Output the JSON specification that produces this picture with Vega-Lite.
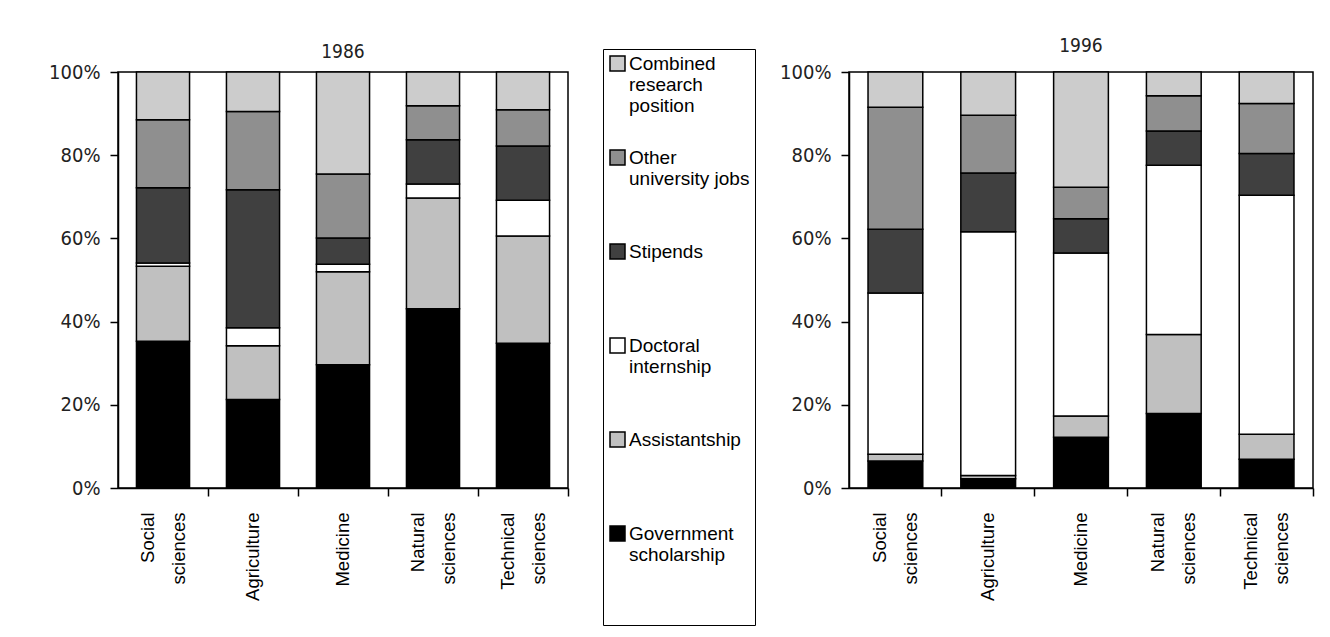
{
  "$schema": "https://vega.github.io/schema/vega-lite/v6.json",
  "background": "white",
  "padding": {"left": 47, "top": 36, "right": 5, "bottom": 5},
  "config": {
    "font": "Liberation Sans",
    "view": {"stroke": "black", "strokeWidth": 1.5},
    "concat": {"spacing": 21},
    "title": {"font": "DejaVu Sans Condensed, Liberation Sans Narrow, sans-serif", "fontSize": 19, "fontWeight": "normal", "color": "#222", "offset": 6},
    "axisY": {"domainColor": "black", "domainWidth": 1.5, "tickColor": "black", "tickWidth": 1.5, "tickSize": 8, "labelFont": "DejaVu Sans Condensed, Liberation Sans Narrow, sans-serif", "labelFontSize": 20, "labelColor": "#222", "labelPadding": 10, "grid": false, "title": null},
    "axisX": {"domainColor": "black", "domainWidth": 1.5, "tickColor": "black", "tickWidth": 1.5, "tickSize": 8, "labelFontSize": 18.5, "labelColor": "black", "labelPadding": 16, "labelAngle": -90, "labelLineHeight": 31, "grid": false, "title": null,
              "labelOffset": {"condition": {"test": "indexof(datum.label, ' ') > 0", "value": -15.5}, "value": 0}},
    "legend": {"symbolType": "square", "symbolStrokeColor": "black", "symbolStrokeWidth": 1.5, "symbolSize": 225, "labelFontSize": 19, "labelColor": "black", "labelLineHeight": 26, "labelOffset": 2, "strokeColor": "black", "padding": 5, "rowPadding": 31, "gridAlign": "all"}
  },
  "data": {"values": [
    {"year": "1986", "discipline": "Social sciences", "source": "Government scholarship", "pct": 35.3},
    {"year": "1986", "discipline": "Social sciences", "source": "Assistantship", "pct": 18.0},
    {"year": "1986", "discipline": "Social sciences", "source": "Doctoral internship", "pct": 0.8},
    {"year": "1986", "discipline": "Social sciences", "source": "Stipends", "pct": 18.1},
    {"year": "1986", "discipline": "Social sciences", "source": "Other university jobs", "pct": 16.3},
    {"year": "1986", "discipline": "Social sciences", "source": "Combined research position", "pct": 11.5},
    {"year": "1986", "discipline": "Agriculture", "source": "Government scholarship", "pct": 21.3},
    {"year": "1986", "discipline": "Agriculture", "source": "Assistantship", "pct": 12.9},
    {"year": "1986", "discipline": "Agriculture", "source": "Doctoral internship", "pct": 4.3},
    {"year": "1986", "discipline": "Agriculture", "source": "Stipends", "pct": 33.2},
    {"year": "1986", "discipline": "Agriculture", "source": "Other university jobs", "pct": 18.8},
    {"year": "1986", "discipline": "Agriculture", "source": "Combined research position", "pct": 9.5},
    {"year": "1986", "discipline": "Medicine", "source": "Government scholarship", "pct": 29.6},
    {"year": "1986", "discipline": "Medicine", "source": "Assistantship", "pct": 22.4},
    {"year": "1986", "discipline": "Medicine", "source": "Doctoral internship", "pct": 1.8},
    {"year": "1986", "discipline": "Medicine", "source": "Stipends", "pct": 6.3},
    {"year": "1986", "discipline": "Medicine", "source": "Other university jobs", "pct": 15.4},
    {"year": "1986", "discipline": "Medicine", "source": "Combined research position", "pct": 24.5},
    {"year": "1986", "discipline": "Natural sciences", "source": "Government scholarship", "pct": 43.1},
    {"year": "1986", "discipline": "Natural sciences", "source": "Assistantship", "pct": 26.6},
    {"year": "1986", "discipline": "Natural sciences", "source": "Doctoral internship", "pct": 3.4},
    {"year": "1986", "discipline": "Natural sciences", "source": "Stipends", "pct": 10.6},
    {"year": "1986", "discipline": "Natural sciences", "source": "Other university jobs", "pct": 8.2},
    {"year": "1986", "discipline": "Natural sciences", "source": "Combined research position", "pct": 8.1},
    {"year": "1986", "discipline": "Technical sciences", "source": "Government scholarship", "pct": 34.8},
    {"year": "1986", "discipline": "Technical sciences", "source": "Assistantship", "pct": 25.8},
    {"year": "1986", "discipline": "Technical sciences", "source": "Doctoral internship", "pct": 8.6},
    {"year": "1986", "discipline": "Technical sciences", "source": "Stipends", "pct": 13.0},
    {"year": "1986", "discipline": "Technical sciences", "source": "Other university jobs", "pct": 8.7},
    {"year": "1986", "discipline": "Technical sciences", "source": "Combined research position", "pct": 9.1},
    {"year": "1996", "discipline": "Social sciences", "source": "Government scholarship", "pct": 6.5},
    {"year": "1996", "discipline": "Social sciences", "source": "Assistantship", "pct": 1.6},
    {"year": "1996", "discipline": "Social sciences", "source": "Doctoral internship", "pct": 38.8},
    {"year": "1996", "discipline": "Social sciences", "source": "Stipends", "pct": 15.3},
    {"year": "1996", "discipline": "Social sciences", "source": "Other university jobs", "pct": 29.3},
    {"year": "1996", "discipline": "Social sciences", "source": "Combined research position", "pct": 8.5},
    {"year": "1996", "discipline": "Agriculture", "source": "Government scholarship", "pct": 2.2},
    {"year": "1996", "discipline": "Agriculture", "source": "Assistantship", "pct": 0.8},
    {"year": "1996", "discipline": "Agriculture", "source": "Doctoral internship", "pct": 58.6},
    {"year": "1996", "discipline": "Agriculture", "source": "Stipends", "pct": 14.1},
    {"year": "1996", "discipline": "Agriculture", "source": "Other university jobs", "pct": 13.9},
    {"year": "1996", "discipline": "Agriculture", "source": "Combined research position", "pct": 10.4},
    {"year": "1996", "discipline": "Medicine", "source": "Government scholarship", "pct": 12.2},
    {"year": "1996", "discipline": "Medicine", "source": "Assistantship", "pct": 5.1},
    {"year": "1996", "discipline": "Medicine", "source": "Doctoral internship", "pct": 39.2},
    {"year": "1996", "discipline": "Medicine", "source": "Stipends", "pct": 8.2},
    {"year": "1996", "discipline": "Medicine", "source": "Other university jobs", "pct": 7.6},
    {"year": "1996", "discipline": "Medicine", "source": "Combined research position", "pct": 27.7},
    {"year": "1996", "discipline": "Natural sciences", "source": "Government scholarship", "pct": 17.9},
    {"year": "1996", "discipline": "Natural sciences", "source": "Assistantship", "pct": 19.0},
    {"year": "1996", "discipline": "Natural sciences", "source": "Doctoral internship", "pct": 40.7},
    {"year": "1996", "discipline": "Natural sciences", "source": "Stipends", "pct": 8.2},
    {"year": "1996", "discipline": "Natural sciences", "source": "Other university jobs", "pct": 8.5},
    {"year": "1996", "discipline": "Natural sciences", "source": "Combined research position", "pct": 5.7},
    {"year": "1996", "discipline": "Technical sciences", "source": "Government scholarship", "pct": 6.9},
    {"year": "1996", "discipline": "Technical sciences", "source": "Assistantship", "pct": 6.0},
    {"year": "1996", "discipline": "Technical sciences", "source": "Doctoral internship", "pct": 57.5},
    {"year": "1996", "discipline": "Technical sciences", "source": "Stipends", "pct": 10.0},
    {"year": "1996", "discipline": "Technical sciences", "source": "Other university jobs", "pct": 12.0},
    {"year": "1996", "discipline": "Technical sciences", "source": "Combined research position", "pct": 7.6}
  ]},
  "transform": [
    {"calculate": "indexof(['Government scholarship','Assistantship','Doctoral internship','Stipends','Other university jobs','Combined research position'], datum.source)", "as": "stackOrder"}
  ],
  "resolve": {"legend": {"color": "independent"}},
  "hconcat": [
    {
      "width": 450,
      "height": 416,
      "title": {"text": "1986", "dy": 19},
      "transform": [{"filter": "datum.year == '1986'"}],
      "mark": {"type": "bar", "stroke": "black", "strokeWidth": 1.5},
      "encoding": {
        "x": {"field": "discipline", "type": "nominal", "sort": null,
              "scale": {"paddingInner": 0.41, "paddingOuter": 0.205},
              "axis": {"bandPosition": 1.3475, "labelExpr": "datum.label == 'Agriculture' || datum.label == 'Medicine' ? datum.label : split(datum.label, ' ')"}},
        "y": {"field": "pct", "type": "quantitative", "stack": "normalize",
              "axis": {"format": ".0%", "values": [0, 0.2, 0.4, 0.6, 0.8, 1]}},
        "order": {"field": "stackOrder", "type": "quantitative"},
        "color": {"field": "source", "type": "nominal",
                  "scale": {"domain": ["Combined research position", "Other university jobs", "Stipends", "Doctoral internship", "Assistantship", "Government scholarship"],
                            "range": ["#cccccc", "#8f8f8f", "#404040", "#ffffff", "#c0c0c0", "#000000"]},
                  "legend": {"title": " ", "titleOrient": "bottom", "titlePadding": 36, "titleFontSize": 19, "orient": "none", "legendX": 485, "legendY": -23,
                             "labelExpr": "datum.label == 'Combined research position' ? ['Combined','research','position'] : datum.label == 'Other university jobs' ? ['Other','university jobs'] : datum.label == 'Doctoral internship' ? ['Doctoral','internship'] : datum.label == 'Government scholarship' ? ['Government','scholarship'] : datum.label"}}
      }
    },
    {
      "width": 464,
      "height": 416,
      "title": "1996",
      "transform": [{"filter": "datum.year == '1996'"}],
      "mark": {"type": "bar", "stroke": "black", "strokeWidth": 1.5},
      "encoding": {
        "x": {"field": "discipline", "type": "nominal", "sort": null,
              "scale": {"paddingInner": 0.41, "paddingOuter": 0.205},
              "axis": {"bandPosition": 1.3475, "labelExpr": "datum.label == 'Agriculture' || datum.label == 'Medicine' ? datum.label : split(datum.label, ' ')"}},
        "y": {"field": "pct", "type": "quantitative", "stack": "normalize",
              "axis": {"format": ".0%", "values": [0, 0.2, 0.4, 0.6, 0.8, 1]}},
        "order": {"field": "stackOrder", "type": "quantitative"},
        "color": {"field": "source", "type": "nominal",
                  "scale": {"domain": ["Combined research position", "Other university jobs", "Stipends", "Doctoral internship", "Assistantship", "Government scholarship"],
                            "range": ["#cccccc", "#8f8f8f", "#404040", "#ffffff", "#c0c0c0", "#000000"]},
                  "legend": null}
      }
    }
  ]
}
